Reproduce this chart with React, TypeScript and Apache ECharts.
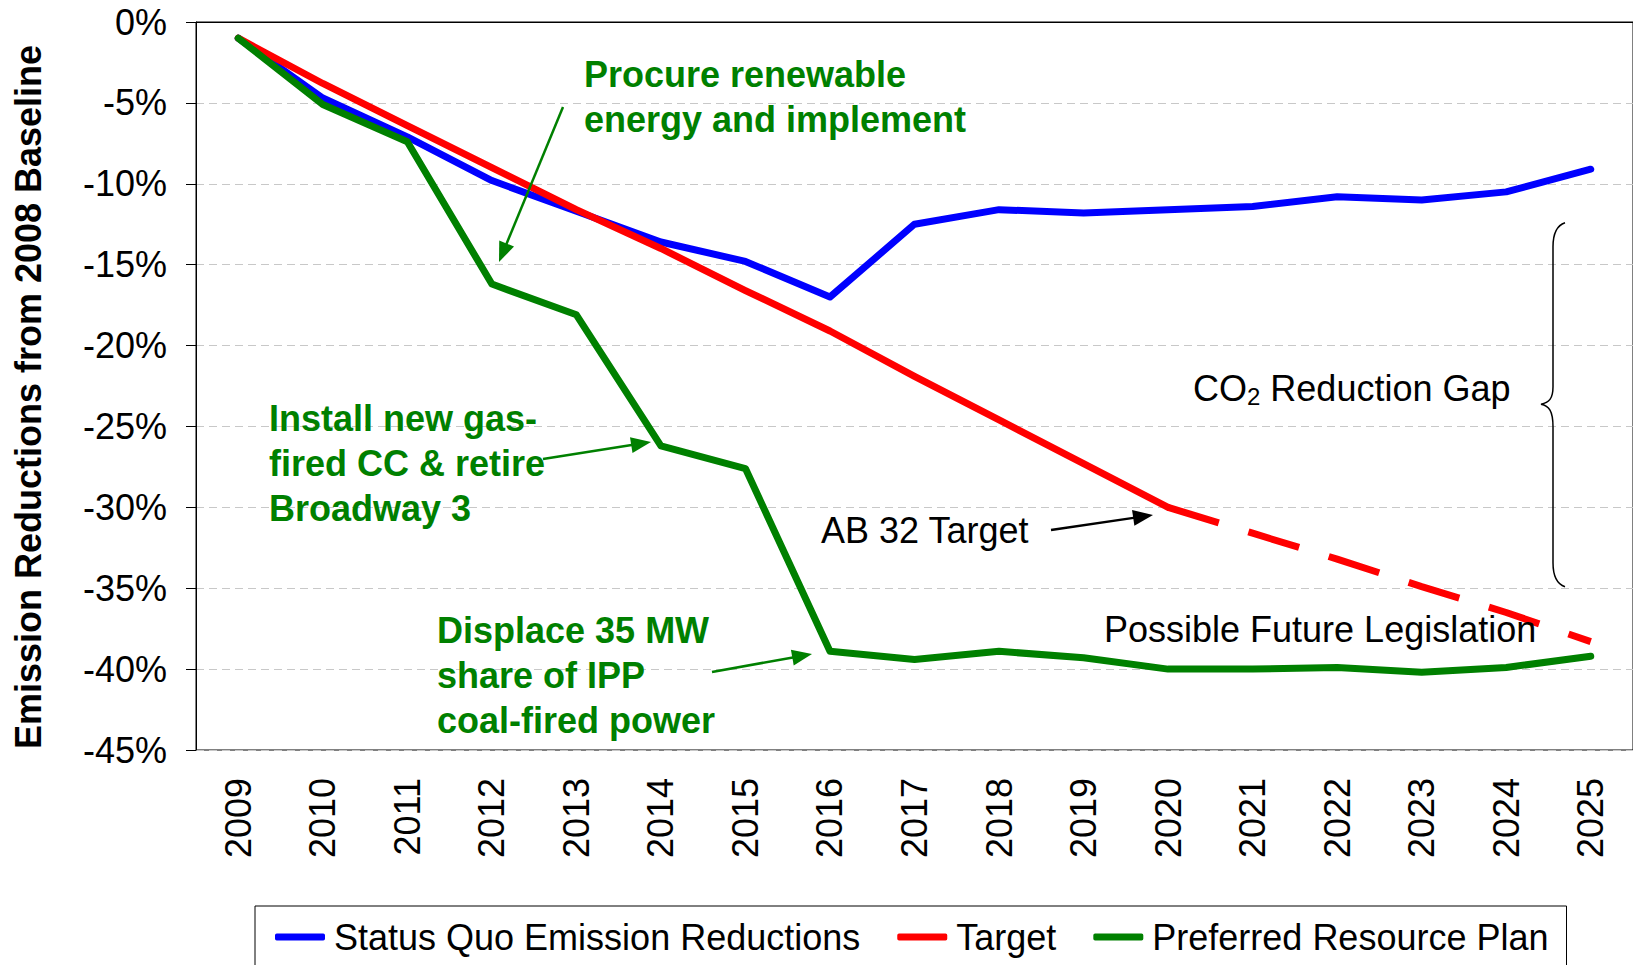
import React, { useEffect, useRef } from "react";
import * as echarts from "echarts";

const years = ["2009", "2010", "2011", "2012", "2013", "2014", "2015", "2016", "2017", "2018", "2019", "2020", "2021", "2022", "2023", "2024", "2025"];
const statusQuo = [-1.0, -4.7, -7.1, -9.8, -11.7, -13.6, -14.8, -17.0, -12.5, -11.6, -11.8, -11.6, -11.4, -10.8, -11.0, -10.5, -9.1];
const target = [-1.0, -3.8, -6.4, -9.0, -11.6, -14.0, -16.6, -19.1, -21.9, -24.6, -27.3, -30.0, null, null, null, null, null];
const targetFuture = [null, null, null, null, null, null, null, null, null, null, null, -30.0, -31.6, -33.2, -34.9, -36.5, -38.3];
const preferred = [-1.0, -5.1, -7.4, -16.2, -18.1, -26.2, -27.6, -38.9, -39.4, -38.9, -39.3, -40.0, -40.0, -39.9, -40.2, -39.9, -39.2];
const seriesNames = ["Status Quo Emission Reductions", "Target", "Preferred Resource Plan"];
const yTitle = "Emission Reductions from 2008 Baseline";

const FONT = 'Arial, "Liberation Sans", sans-serif';
const GREEN = "#008000";

const braceD = "M24 0 C15 3 12 12 12 24 L12 164 C12 176 8 180 0 181.5 C8 183 12 188 12 204 L12 340 C12 352 15 361 24 364";
echarts.graphic.registerShape("brace", echarts.graphic.extendPath(braceD, {}) as any);

function arrow(x1: number, y1: number, x2: number, y2: number, color: string) {
  const dx = x2 - x1, dy = y2 - y1;
  const len = Math.sqrt(dx * dx + dy * dy);
  const ux = dx / len, uy = dy / len;
  const headL = 20, headW = 8;
  const bx = x2 - ux * headL, by = y2 - uy * headL;
  const px = -uy, py = ux;
  return [
    { type: "line", shape: { x1, y1, x2: bx + ux * 2, y2: by + uy * 2 }, style: { stroke: color, lineWidth: 2.5 }, z: 100 },
    {
      type: "polygon",
      shape: { points: [[x2, y2], [bx + px * headW, by + py * headW], [bx - px * headW, by - py * headW]] },
      style: { fill: color },
      z: 100,
    },
  ];
}

function label(text: string, x: number, y: number, color: string, bold: boolean) {
  return {
    type: "text",
    x,
    y,
    z: 100,
    style: {
      text,
      fill: color,
      fontSize: 36,
      fontFamily: FONT,
      fontWeight: bold ? "bold" : "normal",
      align: "left",
      verticalAlign: "middle",
    },
  };
}

export default function App() {
  const ref = useRef<HTMLDivElement>(null);
  useEffect(() => {
    if (!ref.current) return;
    const chart = echarts.init(ref.current, null, { renderer: "svg" });
    const option: any = {
      animation: false,
      backgroundColor: "#fff",
      textStyle: { fontFamily: FONT },
      grid: { left: 196, right: 0, top: 22, bottom: 215, show: true, borderColor: "#000", borderWidth: 1 },
      legend: {
        data: seriesNames.map((n) => ({ name: n, icon: "roundRect" })),
        left: 255,
        top: 906,
        padding: [13, 18, 20, 20],
        borderColor: "#000",
        borderWidth: 1,
        itemWidth: 50,
        itemHeight: 7,
        itemGap: 37,
        textStyle: { fontSize: 36, color: "#000", fontFamily: FONT, padding: [0, 0, 0, 4] },
      },
      xAxis: {
        type: "category",
        data: years,
        boundaryGap: true,
        axisLine: { lineStyle: { color: "#000", width: 1 } },
        axisTick: { show: false },
        axisLabel: { rotate: 90, fontSize: 36, color: "#000", margin: 28, fontFamily: FONT },
        splitLine: { show: false },
      },
      yAxis: {
        type: "value",
        min: -45,
        max: 0,
        interval: 5,
        name: yTitle,
        nameLocation: "middle",
        nameGap: 150,
        nameTextStyle: { fontSize: 36, fontWeight: "bold", color: "#000", fontFamily: FONT, padding: [0, 22, 0, 0] },
        axisLine: { show: true, lineStyle: { color: "#000", width: 1 } },
        axisTick: { show: true, length: 10, lineStyle: { color: "#000" } },
        axisLabel: { fontSize: 36, color: "#000", margin: 29, fontFamily: FONT, formatter: (v: number) => `${v}%` },
        splitLine: { show: true, lineStyle: { color: "#c8c8c8", type: [8, 5], width: 1 } },
      },
      series: [
        {
          name: seriesNames[0], type: "line", data: statusQuo, showSymbol: false, symbol: "none",
          lineStyle: { color: "#0000ff", width: 7, cap: "round", join: "round" }, itemStyle: { color: "#0000ff" },
        },
        {
          name: seriesNames[1], type: "line", data: target, showSymbol: false, symbol: "none",
          lineStyle: { color: "#ff0000", width: 7, cap: "round", join: "round" }, itemStyle: { color: "#ff0000" },
        },
        {
          name: "Target (future)", type: "line", data: targetFuture, showSymbol: false, symbol: "none",
          lineStyle: { color: "#ff0000", width: 7, type: [53, 31], cap: "butt" }, itemStyle: { color: "#ff0000" },
        },
        {
          name: seriesNames[2], type: "line", data: preferred, showSymbol: false, symbol: "none",
          lineStyle: { color: GREEN, width: 7, cap: "round", join: "round" }, itemStyle: { color: GREEN },
        },
      ],
      graphic: [
        label("Procure renewable", 584, 74, GREEN, true),
        label("energy and implement", 584, 119, GREEN, true),
        ...arrow(563, 107, 499, 262, GREEN),
        label("Install new gas-", 269, 418, GREEN, true),
        label("fired CC & retire", 269, 463, GREEN, true),
        label("Broadway 3", 269, 508, GREEN, true),
        ...arrow(543, 459, 651, 442, GREEN),
        label("Displace 35 MW", 437, 630, GREEN, true),
        label("share of IPP", 437, 675, GREEN, true),
        label("coal-fired power", 437, 720, GREEN, true),
        ...arrow(712, 672, 812, 654, GREEN),
        label("AB 32 Target", 821, 530, "#000", false),
        ...arrow(1051, 530, 1153, 515, "#000"),
        {
          type: "text",
          x: 1193,
          y: 388,
          z: 100,
          style: {
            text: "CO{s|2} Reduction Gap",
            fill: "#000",
            fontSize: 36,
            fontFamily: FONT,
            align: "left",
            verticalAlign: "middle",
            rich: { s: { fontSize: 24, fontFamily: FONT, fill: "#000", padding: [16, 0, 0, 0] } },
          },
        },
        label("Possible Future Legislation", 1104, 629, "#000", false),
        { type: "brace", x: 1541, y: 222.7, z: 100, style: { stroke: "#000", fill: "none", lineWidth: 1.5 } },
      ],
    };
    chart.setOption(option);
    return () => chart.dispose();
  }, []);
  return (
    <div
      ref={ref}
      style={{ position: "absolute", left: 0, top: 0, width: 1633, height: 965, overflow: "hidden", background: "#fff" }}
    />
  );
}
